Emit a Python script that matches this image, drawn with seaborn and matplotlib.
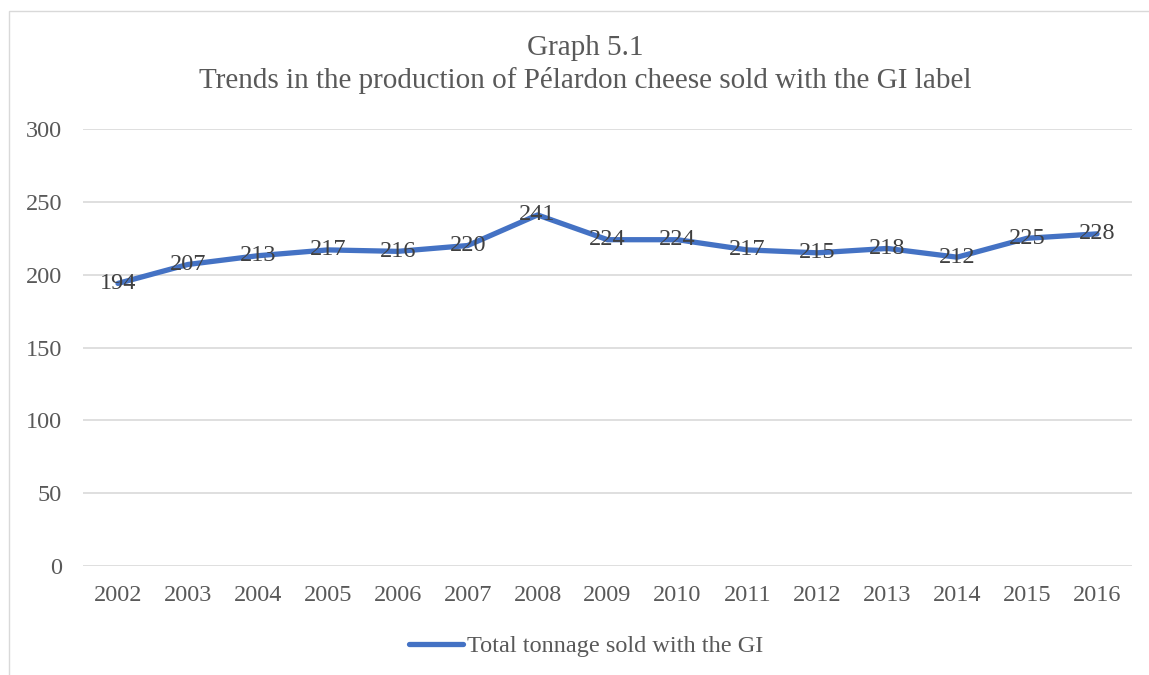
import matplotlib
matplotlib.use("Agg")
import matplotlib.pyplot as plt
import seaborn as sns
import pandas as pd
from matplotlib.patches import Rectangle
from matplotlib.lines import Line2D

years = ["2002", "2003", "2004", "2005", "2006", "2007", "2008", "2009",
         "2010", "2011", "2012", "2013", "2014", "2015", "2016"]
tonnage = [194, 207, 213, 217, 216, 220, 241, 224, 224, 217, 215, 218, 212, 225, 228]
yticks = [0, 50, 100, 150, 200, 250, 300]
series_name = "Total tonnage sold with the GI"
title_lines = ["Graph 5.1", "Trends in the production of Pélardon cheese sold with the GI label"]

sns.set_theme(style="white")
plt.rcParams['font.family'] = ['Liberation Serif', 'DejaVu Serif']

TXT = "#595959"
BLUE = "#4472C4"
GRID = "#D9D9D9"
FS = 17.5

df = pd.DataFrame({"Year": years, "Tonnage": tonnage, "Series": series_name})
df["pos"] = range(len(years))

fig = plt.figure(figsize=(11.49, 6.75), dpi=100)
W, H = 1149, 675
ax = fig.add_axes([83 / W, 1 - 566 / H, (1132 - 83) / W, (566 - 129) / H])

# Frame around chart
fig.patches.append(Rectangle((9 / W, -0.1), 1.2, 1 - 11 / H + 0.1, transform=fig.transFigure,
                             fill=False, edgecolor="#D9D9D9", linewidth=1.0))

sns.lineplot(data=df, x="pos", y="Tonnage", hue="Series", palette=[BLUE],
             linewidth=3.8, ax=ax, legend=False, solid_capstyle="round")

ax.set_xlim(-0.5, len(years) - 0.5)
ax.set_ylim(0, 300)
ax.set_yticks(yticks)
ax.set_yticklabels([str(t) for t in yticks])
ax.set_xticks(range(len(years)))
ax.set_xticklabels(years)
ax.set_xlabel("")
ax.set_ylabel("")
for s in ax.spines.values():
    s.set_visible(False)
ax.grid(axis="y", color=GRID, linewidth=1.2)
ax.grid(axis="x", visible=False)
ax.set_axisbelow(True)
ax.tick_params(axis="both", length=0, labelsize=FS, labelcolor=TXT)
ax.tick_params(axis="y", pad=15)
ax.tick_params(axis="x", pad=14)

for i, v in enumerate(tonnage):
    ax.text(i, v, str(v), ha="center", va="center", fontsize=FS, color="#404040")

fig.text(585 / W, 1 - 48 / H, title_lines[0], ha="center", va="center", fontsize=21, color=TXT)
fig.text(585 / W, 1 - 81 / H, title_lines[1], ha="center", va="center", fontsize=21, color=TXT)

# Legend
handle = Line2D([0], [0], color=BLUE, linewidth=3.8, solid_capstyle="round")
leg = fig.legend([handle], [series_name], loc="center", bbox_to_anchor=(586 / W, 1 - 646 / H),
                 frameon=False, fontsize=FS, handlelength=2.2, handletextpad=0.17)
for t in leg.get_texts():
    t.set_color(TXT)

fig.savefig("out.png", dpi=100)
